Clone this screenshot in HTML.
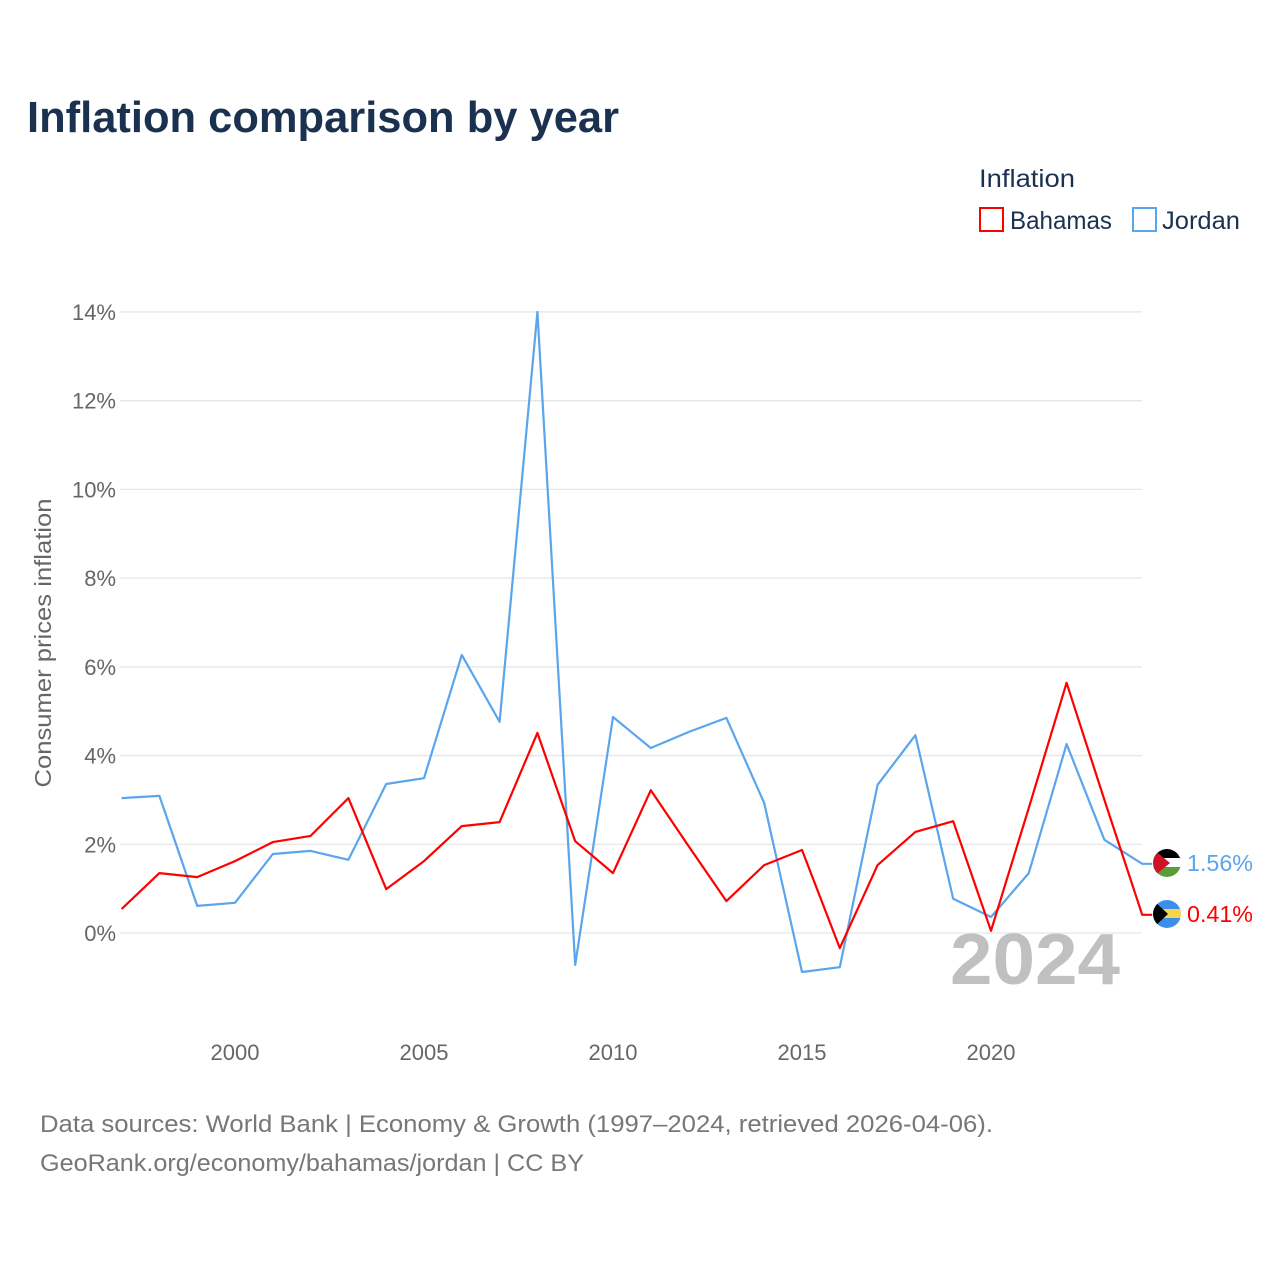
<!DOCTYPE html>
<html><head><meta charset="utf-8"><style>
body{margin:0;background:#fff;font-family:"Liberation Sans",sans-serif}
svg{display:block}
</style></head><body>
<svg id="chart" width="1280" height="1280" xmlns="http://www.w3.org/2000/svg">
<defs>
<clipPath id="cj"><circle cx="1167" cy="863" r="14"/></clipPath>
<clipPath id="cb"><circle cx="1167" cy="914" r="14"/></clipPath>
</defs>
<text x="27" y="132" font-size="44" font-weight="bold" fill="#1b3150" textLength="592" lengthAdjust="spacingAndGlyphs">Inflation comparison by year</text>
<text x="979" y="187" font-size="25" fill="#1b3150" textLength="96" lengthAdjust="spacingAndGlyphs">Inflation</text>
<g>
<rect x="980" y="208" width="23" height="23" fill="none" stroke="#ff0000" stroke-width="2"/>
<text x="1010" y="229" font-size="25" fill="#1b3150" textLength="102" lengthAdjust="spacingAndGlyphs">Bahamas</text></g>
<g>
<rect x="1133" y="208" width="23" height="23" fill="none" stroke="#5aa5ec" stroke-width="2"/>
<text x="1162" y="229" font-size="25" fill="#1b3150" textLength="78" lengthAdjust="spacingAndGlyphs">Jordan</text></g>
<text transform="translate(51,643) rotate(-90)" text-anchor="middle" font-size="23" fill="#666" textLength="289" lengthAdjust="spacingAndGlyphs">Consumer prices inflation</text>
<g id="grid"></g><g id="xt"></g>
<text x="950" y="984" font-size="72" font-weight="bold" fill="#c0c0c0" textLength="170" lengthAdjust="spacingAndGlyphs">2024</text>
<g id="lines"></g>
<g clip-path="url(#cj)">
<rect x="1153" y="849" width="28" height="10" fill="#000"/><rect x="1153" y="858" width="28" height="10" fill="#fff"/><rect x="1153" y="867" width="28" height="10" fill="#5c9b3a"/>
<polygon points="1153,849 1170,863 1153,877" fill="#ce1126"/></g>
<g clip-path="url(#cb)">
<rect x="1153" y="900" width="28" height="10" fill="#3b8fe8"/><rect x="1153" y="909" width="28" height="10" fill="#f7d44a"/><rect x="1153" y="918" width="28" height="10" fill="#3b8fe8"/>
<polygon points="1153,900 1168,914 1153,928" fill="#000"/></g>
<text x="1187" y="871" font-size="23" fill="#5aa5ec" textLength="66" lengthAdjust="spacingAndGlyphs">1.56%</text>
<text x="1187" y="922" font-size="23" fill="#ff0000" textLength="66" lengthAdjust="spacingAndGlyphs">0.41%</text>
<text x="40" y="1132" font-size="24" fill="#777" textLength="953" lengthAdjust="spacingAndGlyphs">Data sources: World Bank | Economy &amp; Growth (1997–2024, retrieved 2026-04-06).</text>
<text x="40" y="1171" font-size="24" fill="#777" textLength="544" lengthAdjust="spacingAndGlyphs">GeoRank.org/economy/bahamas/jordan | CC BY</text>
</svg>
<script>
const years=[1997,1998,1999,2000,2001,2002,2003,2004,2005,2006,2007,2008,2009,2010,2011,2012,2013,2014,2015,2016,2017,2018,2019,2020,2021,2022,2023,2024];
const jordan=[3.04,3.09,0.61,0.68,1.78,1.85,1.65,3.36,3.49,6.27,4.76,14.0,-0.72,4.87,4.17,4.53,4.85,2.93,-0.88,-0.77,3.34,4.46,0.77,0.36,1.35,4.26,2.10,1.56];
const bahamas=[0.54,1.35,1.26,1.62,2.05,2.19,3.04,0.99,1.62,2.41,2.50,4.51,2.07,1.35,3.22,1.96,0.72,1.53,1.87,-0.34,1.53,2.28,2.52,0.05,2.82,5.64,3.00,0.41];
const yTicks=[0,2,4,6,8,10,12,14];
const xTicks=[2000,2005,2010,2015,2020];
const NS="http://www.w3.org/2000/svg";
const x=v=>121.6+(v-1997)*37.8;
const y=v=>933-v*44.36;
const grid=document.getElementById('grid');
yTicks.forEach(t=>{
const l=document.createElementNS(NS,'line');
l.setAttribute('x1',120);l.setAttribute('x2',1142);l.setAttribute('y1',y(t));l.setAttribute('y2',y(t));
l.setAttribute('stroke','#e6e6e6');l.setAttribute('stroke-width','1.3');


grid.appendChild(l);
const tx=document.createElementNS(NS,'text');
tx.setAttribute('x',116);tx.setAttribute('y',y(t)+8);tx.setAttribute('text-anchor','end');
tx.setAttribute('font-size','22');tx.setAttribute('fill','#666');tx.textContent=t+'%';


grid.appendChild(tx);
});
const xt=document.getElementById('xt');
xTicks.forEach(t=>{
const tx=document.createElementNS(NS,'text');
tx.setAttribute('x',x(t));tx.setAttribute('y',1060);tx.setAttribute('text-anchor','middle');
tx.setAttribute('font-size','22');tx.setAttribute('fill','#666');tx.textContent=t;


xt.appendChild(tx);
});
const lines=document.getElementById('lines');
function draw(vals,color,name){
const pts=vals.map((v,i)=>x(years[i]).toFixed(1)+','+y(v).toFixed(1));
pts.push((x(years[years.length-1])+10).toFixed(1)+','+y(vals[vals.length-1]).toFixed(1));
const p=document.createElementNS(NS,'polyline');
p.setAttribute('points',pts.join(' '));p.setAttribute('fill','none');
p.setAttribute('stroke',color);p.setAttribute('stroke-width','2.2');p.setAttribute('stroke-linejoin','round');


lines.appendChild(p);
}
draw(jordan,'#5aa5ec','jordan-line');
draw(bahamas,'#ff0000','bahamas-line');
</script>
</body></html>
